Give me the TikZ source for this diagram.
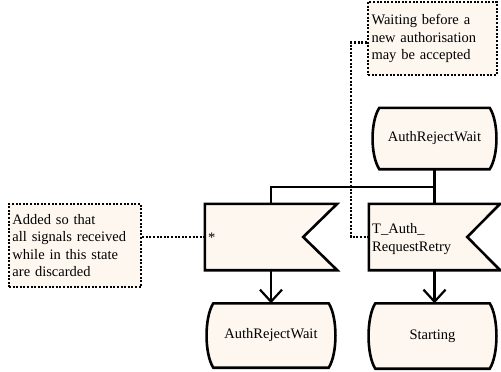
\documentclass[tikz,border=0pt]{standalone}
\usepackage{fontspec}
\setmainfont{Liberation Serif}
\usetikzlibrary{backgrounds,arrows.meta}
\definecolor{cream}{RGB}{253,247,240}
\tikzset{
  txt/.style={font=\fontsize{14.5}{17.5}\selectfont},
  stateholder/.style={txt, draw=none, inner sep=0pt, minimum width=#1, align=center},
  sigholder/.style={txt, draw=none, inner sep=0pt, minimum width=#1, minimum height=66pt},
  notebox/.style={txt, draw=black, fill=cream, line width=2.4pt, dash pattern=on 2pt off 1.6pt, align=left, inner sep=0pt, inner xsep=3.5pt},
  outline/.style={draw=black, fill=cream, line width=2.6pt},
  conn/.style={draw=black, line width=2.2pt},
  arr/.style={conn, -{Straight Barb[length=12pt, width=22pt, line width=2.2pt]}},
  dotconn/.style={draw=black, line width=2.4pt, dash pattern=on 2pt off 1.6pt},
}
\newcommand\stateoutline[1]{%
  \path[outline] ([xshift=7pt]#1.north west) -- ([xshift=-7pt]#1.north east)
    .. controls ([xshift=2pt,yshift=-14pt]#1.north east) and ([xshift=2pt,yshift=14pt]#1.south east) .. ([xshift=-7pt]#1.south east)
    -- ([xshift=7pt]#1.south west)
    .. controls ([xshift=-2pt,yshift=14pt]#1.south west) and ([xshift=-2pt,yshift=-14pt]#1.north west) .. ([xshift=7pt]#1.north west) -- cycle;}
\newcommand\sigoutline[2]{%
  \path[outline] (#1.north west) -- (#1.north east) -- ([xshift=-#2]#1.east) -- (#1.south east) -- (#1.south west) -- cycle;}
\begin{document}
\begin{tikzpicture}[x=1pt,y=-1pt]
\useasboundingbox (0,0) rectangle (501,372);
% nodes
\node[stateholder=124pt, minimum height=61pt] (st1) at (434.5,138.5) {AuthRejectWait};
\node[sigholder=132pt] (sigL) at (271,237) {};
\node[sigholder=131pt] (sigR) at (434.5,237) {};
\node[txt, anchor=west, inner sep=0pt] (star) at (208,238) {*};
\node[txt, anchor=west, inner sep=0pt, align=left] (sigRtxt) at (372,239) {T\_Auth\_\\RequestRetry};
\node[stateholder=129pt, minimum height=64pt] (st2) at (271,335.5) {AuthRejectWait};
\node[stateholder=128pt, minimum height=65pt] (st3) at (432.5,336) {Starting};
\node[notebox, text width=122pt, minimum height=73pt] (note1) at (432.5,38.5) {Waiting before a\\new authorisation\\may be accepted};
\node[notebox, text width=125pt, minimum height=83pt] (note2) at (75,245.5) {Added so that\\all signals received\\while in this state\\are discarded};
% outlines
\begin{pgfonlayer}{background}
\stateoutline{st1}
\stateoutline{st2}
\stateoutline{st3}
\sigoutline{sigL}{34pt}
\sigoutline{sigR}{33pt}
\end{pgfonlayer}
% connectors
\coordinate (bar) at (434.5,187);
\draw[conn] (st1.south) -- (sigR.north);
\draw[conn] (bar) -| (sigL.north);
\draw[arr] (sigL.south) -- (st2.north);
\draw[arr] (sigR.south) -- (sigR.south |- st3.north);
\draw[dotconn] ([yshift=-4pt]note1.west) -- ++(-16,0) |- (sigR.west);
\draw[dotconn] (note2.east |- sigL.west) -- (sigL.west);
\end{tikzpicture}
\end{document}
